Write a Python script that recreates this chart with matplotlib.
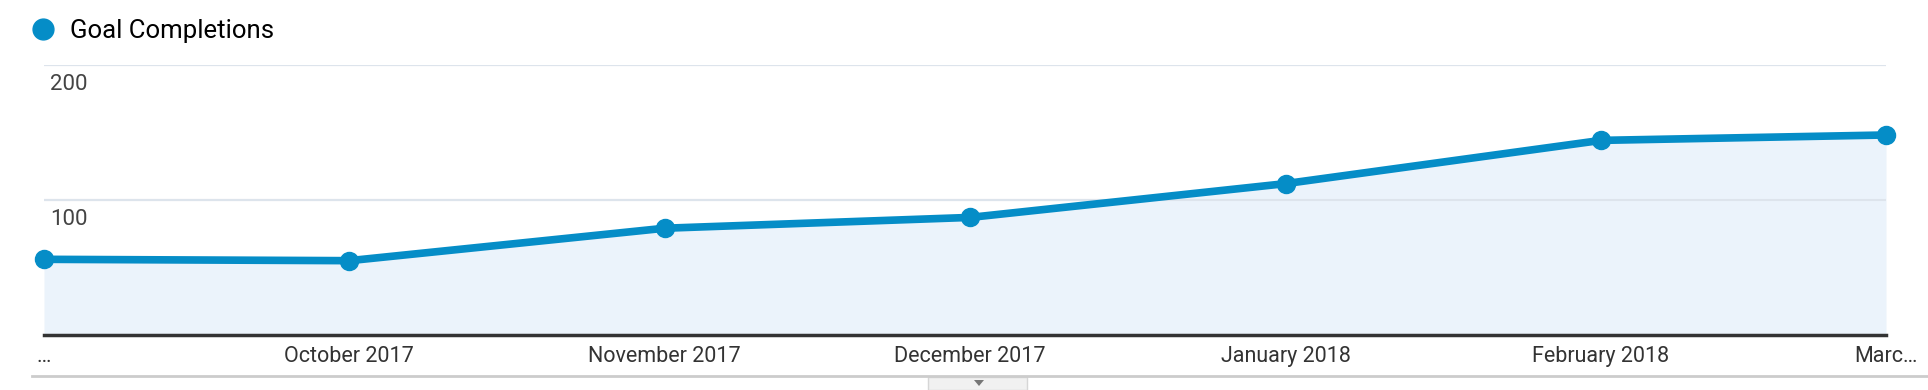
import pandas as pd
import matplotlib
matplotlib.use("Agg")
import matplotlib.pyplot as plt
import matplotlib.transforms as mtransforms
from matplotlib.lines import Line2D
from matplotlib.patches import Rectangle, Polygon

# monthly goal completions, Sep 2017 .. Mar 2018
months = pd.to_datetime(["2017-09-01", "2017-10-01", "2017-11-01", "2017-12-01",
                         "2018-01-01", "2018-02-01", "2018-03-01"])
goal_completions = [56, 55, 79, 87, 112, 144, 148]
x_labels = ["…", "October 2017", "November 2017", "December 2017",
            "January 2018", "February 2018", "Marc…"]
y_ticks = [100, 200]

line_color = "#058dc7"
fill_color = "#ebf3fb"

plt.rcParams["font.family"] = ["Roboto", "DejaVu Sans"]

fig = plt.figure(figsize=(19.28, 3.9), dpi=100)
ax = fig.add_axes([44 / 1928, 55 / 390, 1842 / 1928, 270.3 / 390])

ax.fill_between(months, goal_completions, 0, color=fill_color, lw=0, zorder=1)
for v in y_ticks:
    ax.axhline(v, color="#e6e6e6", lw=1.5, zorder=0.5)
    ax.axhline(v, color="#dde4ec", lw=1.5, zorder=1.5)
ax.plot(months, goal_completions, color=line_color, lw=5.5, marker="o",
        markersize=13, solid_capstyle="round", zorder=3, clip_on=False)

ax.set_xlim(months[0], months[-1])
ax.set_ylim(0, 200)

# y labels sit inside the plot, just under each gridline
lab_tr = mtransforms.offset_copy(ax.get_yaxis_transform(), fig=fig, x=6, y=-9, units="dots")
for v in y_ticks:
    ax.text(0, v, str(v), transform=lab_tr, ha="left", va="top",
            fontsize=16, color="#444444")

ax.set_yticks([])
ax.set_xticks(months)
ax.set_xticklabels(x_labels, fontsize=15.5, color="#333333")
ax.tick_params(axis="x", length=0, pad=8)
for s in ["top", "left", "right"]:
    ax.spines[s].set_visible(False)
ax.spines["bottom"].set_color("#333333")
ax.spines["bottom"].set_linewidth(2.5)
ax.spines["bottom"].set_zorder(4)

# legend
leg_handle = Line2D([], [], marker="o", linestyle="none", color=line_color, markersize=15)
fig.legend([leg_handle], ["Goal Completions"], loc="center left",
           bbox_to_anchor=(20 / 1928, 1 - 31 / 390), frameon=False,
           fontsize=18.5, handletextpad=0.55, borderaxespad=0, handlelength=1.0)

# bottom rule and small drop-down tab
fig.add_artist(Line2D([32 / 1928, 1], [1 - 376 / 390] * 2, color="#cccccc", lw=2,
                      transform=fig.transFigure))
fig.add_artist(Rectangle((928 / 1928, 0), 99 / 1928, 13 / 390, transform=fig.transFigure,
                         facecolor="#f1f1f1", edgecolor="#d6d6d6", lw=1))
fig.add_artist(Polygon([[974 / 1928, 1 - 380 / 390], [984 / 1928, 1 - 380 / 390],
                        [979 / 1928, 1 - 386 / 390]], closed=True,
                       transform=fig.transFigure, facecolor="#777777", edgecolor="none"))

fig.savefig("out.png", dpi=100)
